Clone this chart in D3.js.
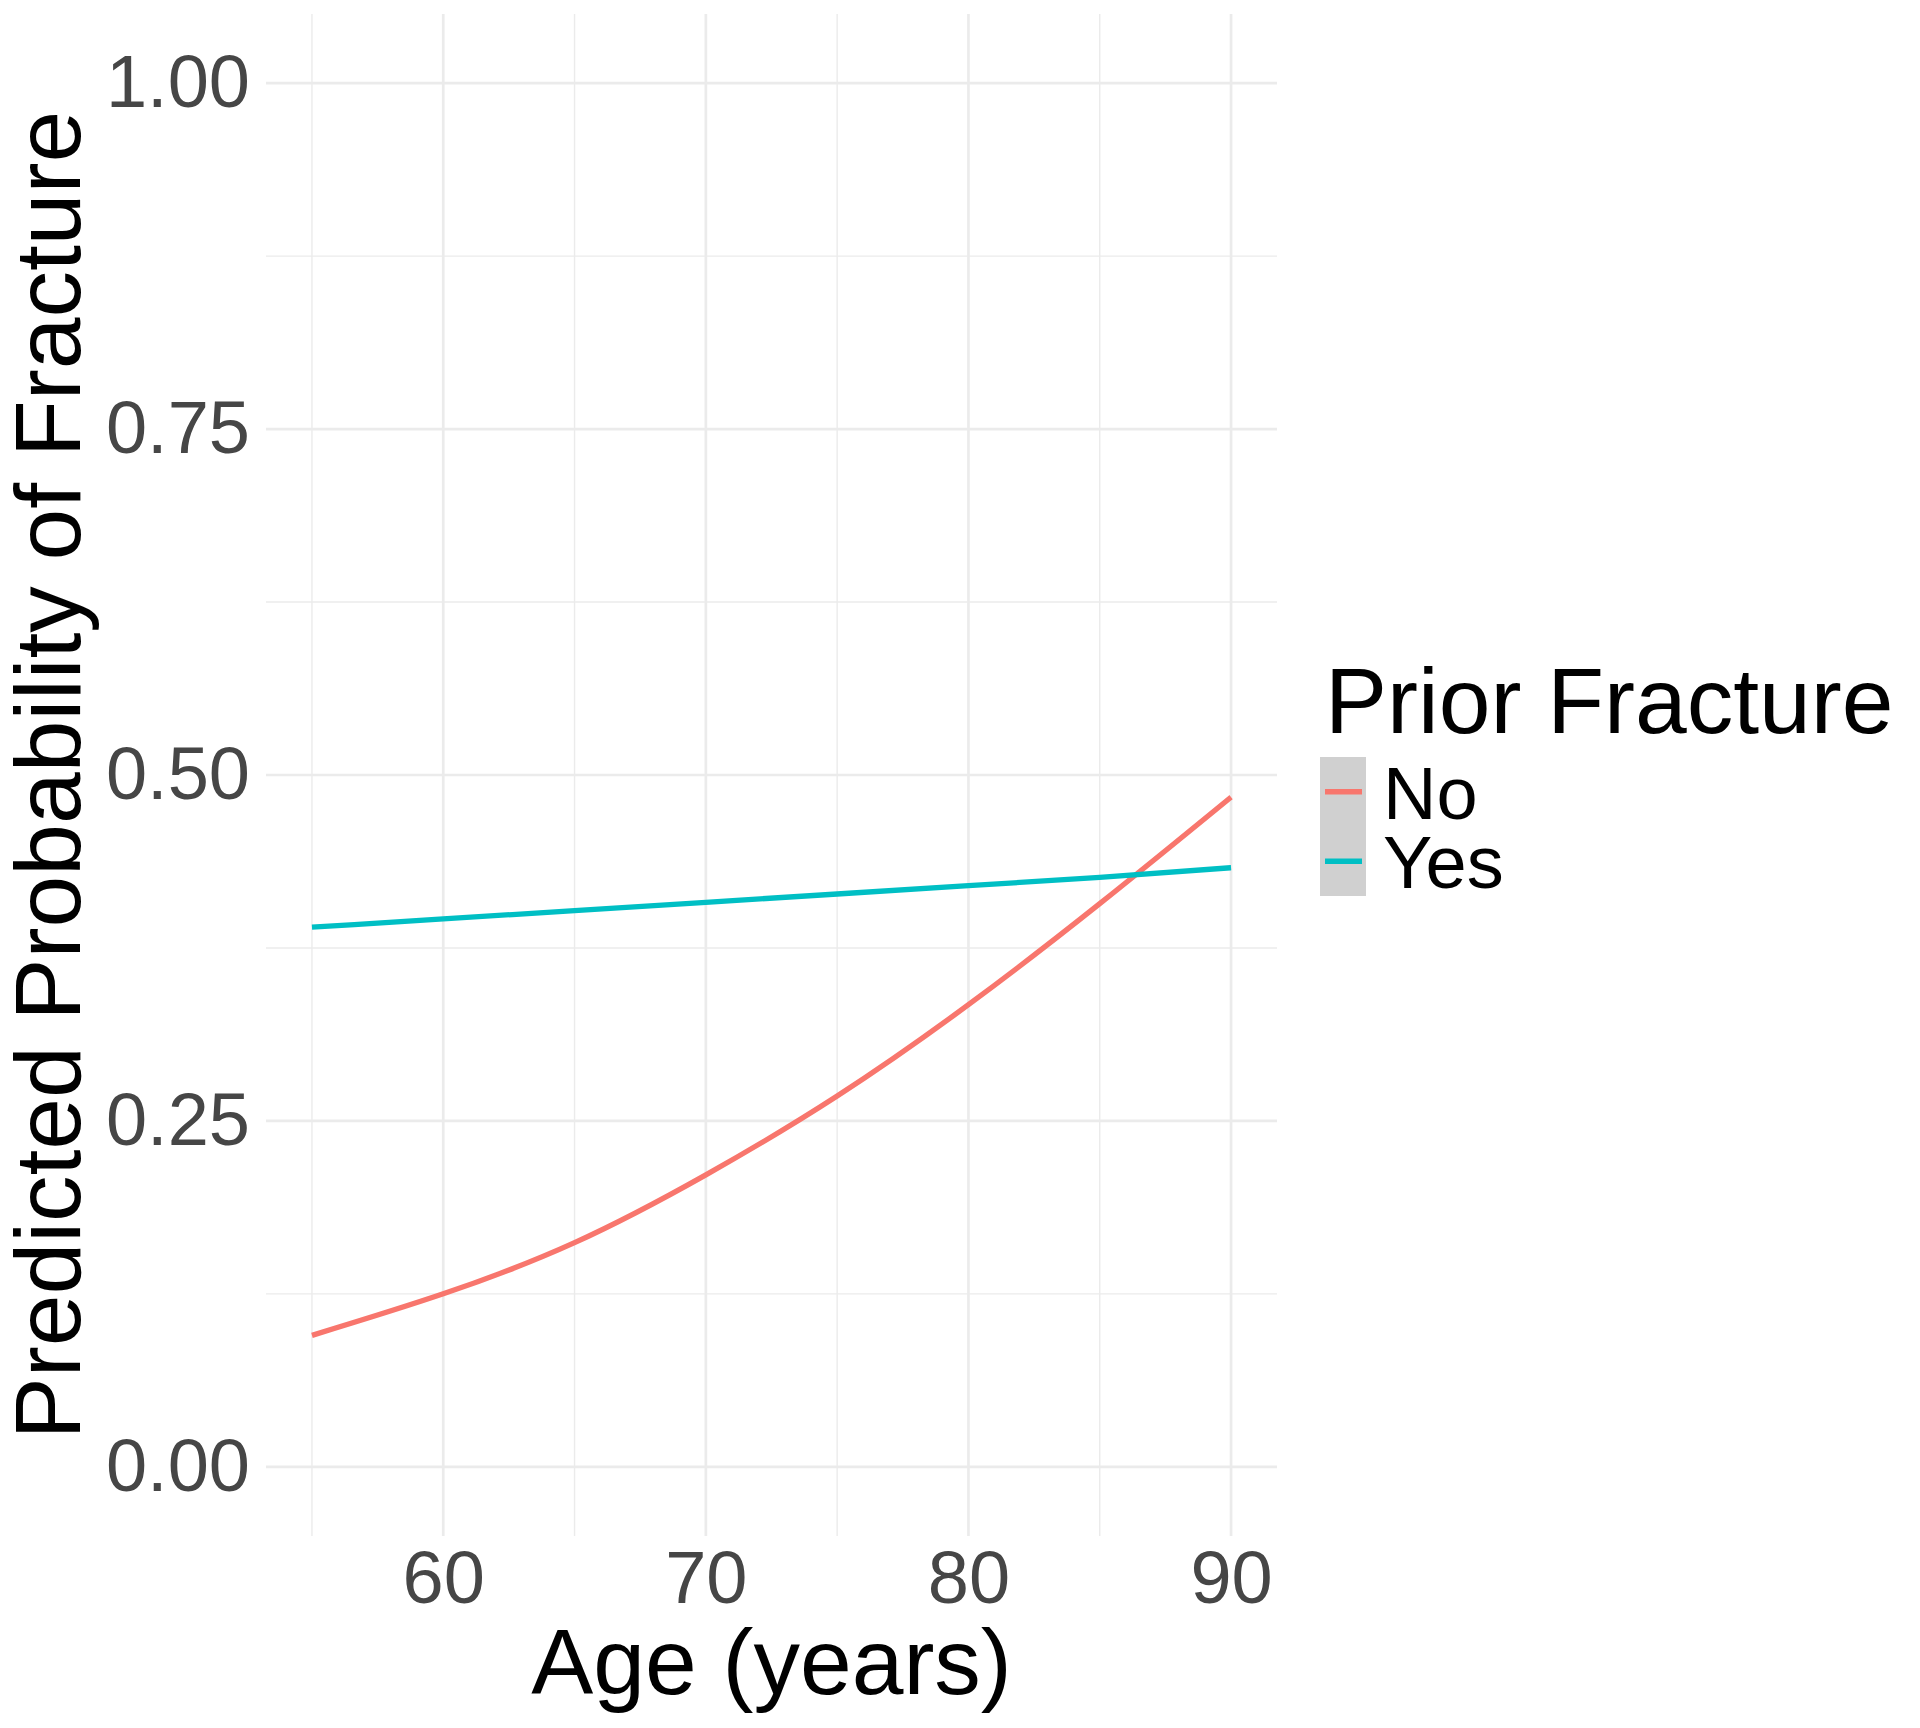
<!DOCTYPE html>
<html>
<head>
<meta charset="utf-8">
<script src="https://cdn.jsdelivr.net/npm/d3@7"></script>
<style>
  html, body { margin: 0; padding: 0; background: #fff; }
  svg { display: block; font-family: "Liberation Sans", Arial, sans-serif; }
</style>
</head>
<body>
<div id="chart"></div>
<script>
// values, one point every 5 years
const ages = [55, 60, 65, 70, 75, 80, 85, 90];
const probNo = [0.095, 0.125, 0.162, 0.211, 0.268, 0.334, 0.407, 0.484];
const probYes = [0.390, 0.396, 0.402, 0.408, 0.414, 0.420, 0.426, 0.433];
const seriesNames = ["No", "Yes"];
const xMajor = [60, 70, 80, 90];
const xMinor = [55, 65, 75, 85];
const yMajor = [0, 0.25, 0.5, 0.75, 1];
const yMinor = [0.125, 0.375, 0.625, 0.875];

const width = 1920, height = 1728;
const panel = { left: 266, right: 1277, top: 14, bottom: 1536 };
const colors = d3.scaleOrdinal().domain(seriesNames).range(["#F8766D", "#00BFC4"]);

const svg = d3.select("#chart").append("svg")
    .attr("width", width)
    .attr("height", height);

// ggplot style 5% expansion on both axes
const xPad = (d3.max(ages) - d3.min(ages)) * 0.05;
const x = d3.scaleLinear()
    .domain([d3.min(ages) - xPad, d3.max(ages) + xPad])
    .range([panel.left, panel.right]);
const y = d3.scaleLinear()
    .domain([-0.05, 1.05])
    .range([panel.bottom, panel.top]);

const grid = svg.append("g").attr("class", "grid").attr("stroke", "#EBEBEB");
grid.selectAll(".ymin").data(yMinor).join("line")
    .attr("x1", panel.left).attr("x2", panel.right)
    .attr("y1", d => y(d)).attr("y2", d => y(d))
    .attr("stroke-width", 1.4);
grid.selectAll(".xmin").data(xMinor).join("line")
    .attr("y1", panel.top).attr("y2", panel.bottom)
    .attr("x1", d => x(d)).attr("x2", d => x(d))
    .attr("stroke-width", 1.4);
grid.selectAll(".ymaj").data(yMajor).join("line")
    .attr("x1", panel.left).attr("x2", panel.right)
    .attr("y1", d => y(d)).attr("y2", d => y(d))
    .attr("stroke-width", 2.7);
grid.selectAll(".xmaj").data(xMajor).join("line")
    .attr("y1", panel.top).attr("y2", panel.bottom)
    .attr("x1", d => x(d)).attr("x2", d => x(d))
    .attr("stroke-width", 2.7);

// axes: labels only
const yAxis = svg.append("g")
    .attr("transform", `translate(${panel.left},0)`)
    .call(d3.axisLeft(y).tickValues(yMajor).tickFormat(d3.format(".2f")).tickSize(0).tickPadding(16));
const xAxis = svg.append("g")
    .attr("transform", `translate(0,${panel.bottom})`)
    .call(d3.axisBottom(x).tickValues(xMajor).tickFormat(d3.format("d")).tickSize(0).tickPadding(14));
[yAxis, xAxis].forEach(a => {
    a.select(".domain").remove();
    a.selectAll("text")
        .attr("fill", "#464646")
        .style("font-size", "74px")
        .style("font-family", "'Liberation Sans', Arial, sans-serif");
});

// lines
const series = [
    { name: "No", values: probNo },
    { name: "Yes", values: probYes }
];
const line = d3.line()
    .x((d, i) => x(ages[i]))
    .y(d => y(d))
    .curve(d3.curveNatural);
svg.append("g").selectAll("path").data(series).join("path")
    .attr("fill", "none")
    .attr("stroke", d => colors(d.name))
    .attr("stroke-width", 5.3)
    .attr("d", d => line(d.values));

// axis titles
svg.append("text")
    .attr("x", (panel.left + panel.right) / 2)
    .attr("y", 1694)
    .attr("text-anchor", "middle")
    .style("font-size", "93px")
    .text("Age (years)");
svg.append("text")
    .attr("transform", `translate(80,${(panel.top + panel.bottom) / 2}) rotate(-90)`)
    .attr("text-anchor", "middle")
    .style("font-size", "93px")
    .text("Predicted Probability of Fracture");

// legend
const legend = svg.append("g").attr("transform", "translate(1320,733)");
legend.append("text")
    .attr("x", 5).attr("y", 0)
    .style("font-size", "93px")
    .text("Prior Fracture");
const keyH = 69.5;
legend.append("rect")
    .attr("x", 0).attr("y", 24)
    .attr("width", 46).attr("height", keyH * seriesNames.length)
    .attr("fill", "#D0D0D0");
const items = legend.selectAll(".item").data(seriesNames).join("g")
    .attr("transform", (d, i) => `translate(0,${24 + keyH * i + keyH / 2})`);
items.append("line")
    .attr("x1", 5).attr("x2", 42)
    .attr("stroke", d => colors(d))
    .attr("stroke-width", 5.3);
items.append("text")
    .attr("x", 63).attr("y", 27)
    .style("font-size", "74px")
    .text(d => d);
</script>
</body>
</html>
